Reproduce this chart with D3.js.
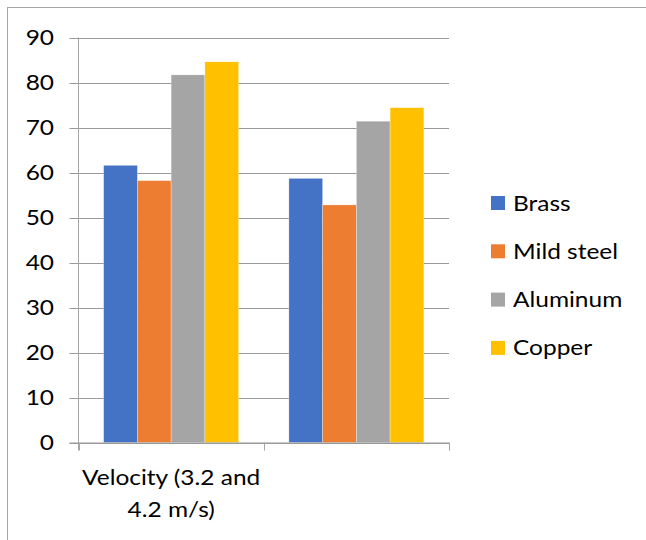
<!DOCTYPE html>
<html><head><meta charset="utf-8">
<script src="https://cdn.jsdelivr.net/npm/d3@7"></script>
<style>html,body{margin:0;padding:0;background:#fff;}svg{display:block;}</style>
</head><body>
<svg id="chart" width="646" height="540"></svg>
<script>
const categories = ["Velocity (3.2 and 4.2 m/s)", ""];
const categoryLines = [["Velocity (3.2 and", "4.2 m/s)"], []];
const seriesNames = ["Brass", "Mild steel", "Aluminum", "Copper"];
const brass = [61.6, 58.7];
const mildSteel = [58.2, 52.8];
const aluminum = [81.7, 71.4];
const copper = [84.6, 74.4];
const seriesValues = [brass, mildSteel, aluminum, copper];
const colors = ["#4472C4", "#ED7D31", "#A5A5A5", "#FFC000"];
const yTicks = [0, 10, 20, 30, 40, 50, 60, 70, 80, 90];

(function () {
const FONT = "Lato, 'Open Sans', sans-serif";
const FS = 21, SX = 1.165;
const svg = d3.select("#chart");

// outer frame (cropped at right and bottom)
svg.append("rect").attr("x", 7.5).attr("y", 7.5).attr("width", 700).attr("height", 600)
  .attr("fill", "none").attr("stroke", "#a6a6a6").attr("stroke-width", 1);

const pLeft = 78.5, pRight = 449, pTop = 37.5, pBottom = 442.5;
const y = d3.scaleLinear().domain([0, 90]).range([pBottom, pTop]);
const x = d3.scaleBand().domain(categories).range([pLeft, pRight]).paddingInner(0).paddingOuter(0);
const xs = d3.scaleBand().domain(seriesNames).range([0, x.bandwidth()]).paddingInner(0).paddingOuter(0.745);

function txt(g, x0, y0, s, anchor) {
  return g.append("text").attr("transform", `translate(${x0},${y0}) scale(${SX},1)`)
    .attr("font-family", FONT).attr("font-size", FS).attr("fill", "#000")
    .attr("text-anchor", anchor).text(s);
}

// gridlines
const grid = svg.append("g");
yTicks.forEach(t => {
  grid.append("line").attr("x1", pLeft - 9).attr("x2", pRight)
    .attr("y1", Math.round(y(t)) + 0.5).attr("y2", Math.round(y(t)) + 0.5)
    .attr("stroke", "#999").attr("stroke-width", 1);
});

// bars
seriesNames.forEach((s, si) => {
  svg.append("g").selectAll("rect").data(seriesValues[si]).join("rect")
    .attr("x", (d, i) => x(categories[i]) + xs(s))
    .attr("width", xs.bandwidth())
    .attr("y", d => y(d))
    .attr("height", d => y(0) - y(d))
    .attr("fill", colors[si])
    .attr("stroke", "#fff").attr("stroke-width", 0.6).attr("stroke-opacity", 0.5);
});

// axes
svg.append("line").attr("x1", pLeft).attr("x2", pLeft).attr("y1", pTop).attr("y2", pBottom + 8)
  .attr("stroke", "#a6a6a6").attr("stroke-width", 1);
svg.append("line").attr("x1", pLeft - 9).attr("x2", pRight).attr("y1", pBottom + 0.5).attr("y2", pBottom + 0.5)
  .attr("stroke", "#999").attr("stroke-width", 1.2);
const catEdges = categories.map(c => x(c)).concat([pRight]);
catEdges.forEach(cx => {
  svg.append("line").attr("x1", Math.round(cx) + 0.5).attr("x2", Math.round(cx) + 0.5)
    .attr("y1", pBottom).attr("y2", pBottom + 8).attr("stroke", "#a6a6a6").attr("stroke-width", 1);
});

// y tick labels
const yl = svg.append("g");
yTicks.forEach(t => {
  txt(yl, 54, y(t) + 7, String(t), "end");
});

// category labels
const xl = svg.append("g");
categories.forEach((c, i) => {
  categoryLines[i].forEach((ln, li) => {
    txt(xl, x(c) + x.bandwidth() / 2, 485 + li * 32, ln, "middle");
  });
});

// legend
const lg = svg.append("g");
seriesNames.forEach((s, i) => {
  const cy = 203 + i * 48.3;
  lg.append("rect").attr("x", 491).attr("y", cy - 7).attr("width", 14).attr("height", 14).attr("fill", colors[i]);
  txt(lg, 513, cy + 7.5, s, "start");
});
})();
</script>
</body></html>
